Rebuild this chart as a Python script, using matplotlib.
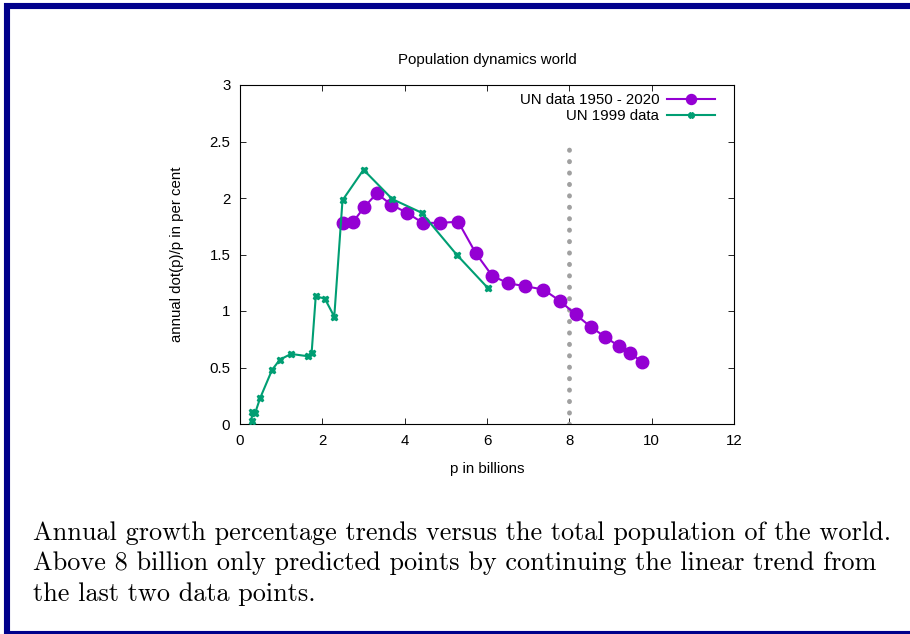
import matplotlib
matplotlib.use("Agg")
import matplotlib.pyplot as plt
from matplotlib.patches import Rectangle

# UN data 1950 - 2020 (plus extrapolated points above 8 billion)
un_p = [2.51, 2.75, 3.02, 3.32, 3.68, 4.05, 4.44, 4.86, 5.30, 5.73, 6.13,
        6.52, 6.92, 7.37, 7.77, 8.15, 8.52, 8.87, 9.20, 9.47, 9.76]
un_rate = [1.78, 1.79, 1.92, 2.04, 1.94, 1.87, 1.78, 1.78, 1.79, 1.51, 1.31,
           1.245, 1.22, 1.19, 1.09, 0.97, 0.86, 0.77, 0.69, 0.63, 0.55]

# UN 1999 data
old_p = [0.28, 0.30, 0.37, 0.49, 0.78, 0.97, 1.24, 1.64, 1.74, 1.84, 2.06,
         2.29, 2.49, 3.00, 3.70, 4.41, 5.26, 6.03]
old_rate = [0.03, 0.11, 0.10, 0.23, 0.48, 0.57, 0.62, 0.60, 0.63, 1.13, 1.11,
            0.95, 1.98, 2.25, 1.99, 1.87, 1.50, 1.20]

marker_x = 8
marker_top = 2.5

purple = "#9400d3"
green = "#009e73"
fs = 10.8

plt.rcParams['font.family'] = ['Liberation Sans', 'DejaVu Sans']

fig = plt.figure(figsize=(9.1, 6.34), dpi=100)
ax = fig.add_axes([240 / 910, 1 - 424 / 634, 494 / 910, 339 / 634])

ax.plot(un_p, un_rate, color=purple, lw=1.5, marker='o', ms=9,
        label="UN data 1950 - 2020", zorder=3)
ax.plot(old_p, old_rate, color=green, lw=1.5, marker='X', ms=5,
        label="UN 1999 data", zorder=4)
ax.plot([marker_x, marker_x], [0, marker_top], color="#a0a0a0", lw=3.5,
        ls=(0, (0.05, 2.3)), dash_capstyle='round', zorder=2)

ax.set_xlim(0, 12)
ax.set_ylim(0, 3)
ax.set_xticks(range(0, 13, 2))
ax.set_yticks([0, 0.5, 1, 1.5, 2, 2.5, 3])
ax.set_yticklabels(["0", "0.5", "1", "1.5", "2", "2.5", "3"])
ax.tick_params(direction='in', top=True, right=True, labelsize=fs, length=4,
               width=0.6, pad=7)
for s in ax.spines.values():
    s.set_linewidth(0.8)

ax.set_title("Population dynamics world", fontsize=fs, pad=15)
ax.set_xlabel("p in billions", fontsize=fs, labelpad=10)
ax.set_ylabel("annual dot(p)/p in per cent", fontsize=fs, labelpad=18)

leg = ax.legend(loc='upper right', frameon=False, fontsize=fs,
                markerfirst=False, handlelength=3.2, borderaxespad=0.15,
                labelspacing=0.1, handletextpad=0.5,
                bbox_to_anchor=(1 - 11 / 494, 1.0), markerscale=0.8)

# page caption
caption = ("Annual growth percentage trends versus the total population of the world.\n"
           "Above 8 billion only predicted points by continuing the linear trend from\n"
           "the last two data points.")
fig.text(33 / 910, 1 - 521 / 634, caption, family=['cmr10', 'DejaVu Serif'],
         fontsize=18.9, va='top', ha='left', linespacing=1.37)

# dark blue frame around the page
fig.patches.append(Rectangle((7 / 910, 0), 1.2, 1 - 6 / 634,
                             transform=fig.transFigure, fill=False,
                             edgecolor="#00008b", lw=4.4))

fig.savefig("out.png", dpi=100)
